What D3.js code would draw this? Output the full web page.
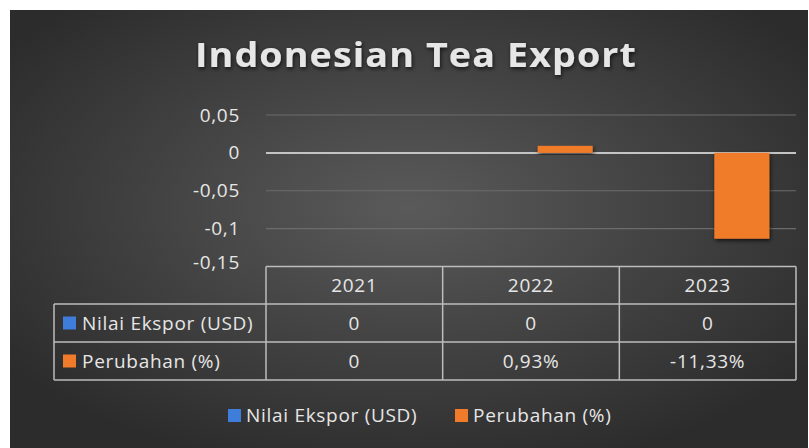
<meta charset="utf-8">
<style>
  body { margin: 0; background: #fff; }
  svg text { font-family: "Open Sans", "Lato", sans-serif; fill: #e6e6e6; }
  .lbl { font-size: 19px; letter-spacing: 0.7px; }
</style>
<body>
<script src="https://d3js.org/d3.v7.min.js"></script>
<script>
// chart data
var years = ["2021", "2022", "2023"];
var series = ["Nilai Ekspor (USD)", "Perubahan (%)"];
var nilaiEkspor = [0, 0, 0];
var perubahan = [0, 0.0093, -0.1133];
var nilaiLabels = ["0", "0", "0"];
var perubahanLabels = ["0", "0,93%", "-11,33%"];
var yTicks = [0.05, 0, -0.05, -0.1, -0.15];
var colors = ["#3f7ddb", "#f07b2b"];

var W = 809, H = 448;
var svg = d3.select("body").append("svg")
    .attr("width", W).attr("height", H);

var defs = svg.append("defs");
var grad = defs.append("radialGradient").attr("id", "bg")
    .attr("cx", "50%").attr("cy", "45%").attr("r", "62%");
grad.append("stop").attr("offset", "0%").attr("stop-color", "#5a5a5a");
grad.append("stop").attr("offset", "100%").attr("stop-color", "#2c2c2c");

var shadow = defs.append("filter").attr("id", "shadow")
    .attr("x", "-10%").attr("y", "-10%").attr("width", "120%").attr("height", "140%");
shadow.append("feDropShadow").attr("dx", 1).attr("dy", 2)
    .attr("stdDeviation", 2).attr("flood-color", "#000").attr("flood-opacity", 0.7);

// background
svg.append("rect").attr("x", 10).attr("y", 10)
    .attr("width", W - 10 - 1).attr("height", H - 10)
    .attr("fill", "url(#bg)");

// title
svg.append("text")
    .attr("x", 195).attr("y", 67)
    .attr("textLength", 442).attr("lengthAdjust", "spacingAndGlyphs")
    .style("font-size", "34px").style("font-weight", "bold")
    .style("letter-spacing", "1px")
    .attr("filter", "url(#shadow)")
    .text("Indonesian Tea Export");

// scales
var x0 = d3.scaleBand().domain(years).range([266, 796]);
var x1 = d3.scaleBand().domain(series).range([0, x0.bandwidth()])
    .paddingInner(0.195).paddingOuter(0.39);
var y = d3.scaleLinear().domain([-0.15, 0.05]).range([266.5, 115]);

// gridlines
svg.append("g").selectAll("line")
    .data(yTicks.filter(function(d) { return d !== -0.15; }))
  .enter().append("line")
    .attr("x1", x0.range()[0]).attr("x2", x0.range()[1])
    .attr("y1", function(d) { return y(d); })
    .attr("y2", function(d) { return y(d); })
    .attr("stroke", function(d) { return d === 0 ? "#c4c4c4" : "#6c6c6c"; })
    .attr("stroke-width", function(d) { return d === 0 ? 2 : 1.2; });

// y axis labels
var fmt = function(d) { return String(d).replace(".", ","); };
var yAxis = svg.append("g")
    .attr("transform", "translate(262,0)")
    .call(d3.axisLeft(y).tickValues(yTicks).tickFormat(fmt).tickSize(0).tickPadding(22));
yAxis.select(".domain").remove();
yAxis.selectAll("text").attr("class", "lbl").attr("fill", "#e6e6e6");
// the lowest label sits a little above the table's top edge
yAxis.selectAll(".tick").filter(function(d) { return d === -0.15; })
    .select("text").attr("y", -4);

// bars
var rows = [nilaiEkspor, perubahan];
rows.forEach(function(vals, si) {
  svg.append("g").selectAll("rect")
      .data(vals)
    .enter().append("rect")
      .attr("x", function(d, i) { return x0(years[i]) + x1(series[si]); })
      .attr("width", x1.bandwidth())
      .attr("y", function(d) { return y(Math.max(0, d)); })
      .attr("height", function(d) { return Math.abs(y(d) - y(0)); })
      .attr("fill", colors[si])
      .attr("filter", "url(#shadow)");
});

// data table
var rowTop = [266.5, 304, 342, 380];
var tableLeft = 54;
var lineColor = "#bdbdbd";
var table = svg.append("g").attr("stroke", lineColor).attr("stroke-width", 1.5);
// horizontal lines
table.append("line").attr("x1", x0.range()[0]).attr("x2", x0.range()[1])
    .attr("y1", rowTop[0]).attr("y2", rowTop[0]);
[1, 2, 3].forEach(function(r) {
  table.append("line").attr("x1", tableLeft).attr("x2", x0.range()[1])
      .attr("y1", rowTop[r]).attr("y2", rowTop[r]);
});
// vertical lines
table.append("line").attr("x1", tableLeft).attr("x2", tableLeft)
    .attr("y1", rowTop[1]).attr("y2", rowTop[3]);
years.forEach(function(yr) {
  table.append("line").attr("x1", x0(yr)).attr("x2", x0(yr))
      .attr("y1", rowTop[0]).attr("y2", rowTop[3]);
});
table.append("line").attr("x1", x0.range()[1]).attr("x2", x0.range()[1])
    .attr("y1", rowTop[0]).attr("y2", rowTop[3]);

// table texts
var cellRows = [years, nilaiLabels, perubahanLabels];
cellRows.forEach(function(labels, r) {
  svg.append("g").selectAll("text")
      .data(labels)
    .enter().append("text")
      .attr("class", "lbl")
      .attr("x", function(d, i) { return x0(years[i]) + x0.bandwidth() / 2; })
      .attr("y", (rowTop[r] + rowTop[r + 1]) / 2)
      .attr("dy", "0.35em")
      .attr("text-anchor", "middle")
      .text(function(d) { return d; });
});

// row headers
series.forEach(function(s, i) {
  var cy = (rowTop[i + 1] + rowTop[i + 2]) / 2;
  svg.append("rect").attr("x", 63).attr("y", cy - 6.5)
      .attr("width", 13).attr("height", 13).attr("fill", colors[i]);
  svg.append("text").attr("class", "lbl").attr("x", 82).attr("y", cy).attr("dy", "0.35em")
      .text(s);
});

// legend
var legendX = [228, 455];
series.forEach(function(s, i) {
  svg.append("rect").attr("x", legendX[i]).attr("y", 409)
      .attr("width", 13).attr("height", 13).attr("fill", colors[i]);
  svg.append("text").attr("class", "lbl").attr("x", legendX[i] + 18).attr("y", 415.5).attr("dy", "0.35em")
      .text(s);
});
</script>
</body>
